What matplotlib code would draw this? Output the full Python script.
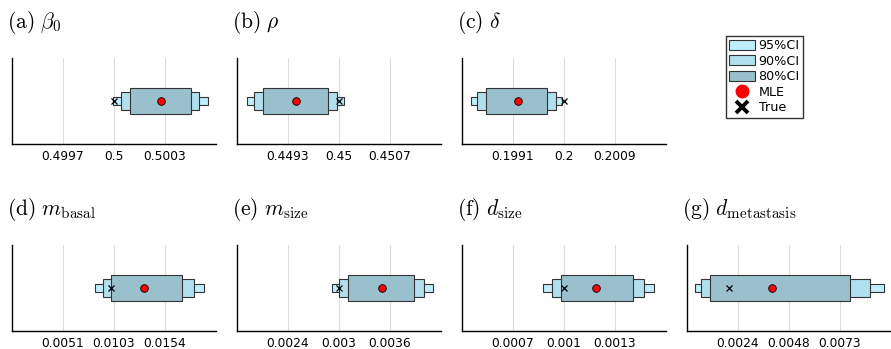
import numpy as np
import matplotlib
matplotlib.use("Agg")
import matplotlib.pyplot as plt
from matplotlib.patches import Patch
from matplotlib.lines import Line2D

plt.rcParams["mathtext.fontset"] = "cm"
plt.rcParams["font.family"] = "DejaVu Sans"

# panel titles
titles = [r"$\mathrm{(a)}\ \beta_0$", r"$\mathrm{(b)}\ \rho$", r"$\mathrm{(c)}\ \delta$",
          r"$\mathrm{(d)}\ m_{\mathrm{basal}}$", r"$\mathrm{(e)}\ m_{\mathrm{size}}$",
          r"$\mathrm{(f)}\ d_{\mathrm{size}}$", r"$\mathrm{(g)}\ d_{\mathrm{metastasis}}$"]

# estimates
true_vals = [0.5, 0.45, 0.2, 0.01, 0.003, 0.001, 0.002]
mle = [0.500276, 0.449414, 0.199183, 0.0133, 0.003502, 0.001188, 0.00406]
ci95_lo = [0.499996, 0.448733, 0.198354, 0.00838, 0.002914, 0.000878, 0.00038]
ci95_hi = [0.500551, 0.450073, 0.199970, 0.01936, 0.004102, 0.001529, 0.00937]
ci90_lo = [0.500041, 0.448837, 0.198470, 0.00916, 0.003004, 0.000928, 0.00065]
ci90_hi = [0.500502, 0.449968, 0.199854, 0.01838, 0.004000, 0.001472, 0.00870]
ci80_lo = [0.500092, 0.448957, 0.198624, 0.01003, 0.003109, 0.000981, 0.00109]
ci80_hi = [0.500451, 0.449845, 0.199705, 0.01720, 0.003886, 0.001408, 0.00775]

# axis ranges and ticks
xlims = [(0.4994, 0.5006), (0.4486, 0.4514), (0.1982, 0.2018), (0.0, 0.0206),
         (0.0018, 0.0042), (0.0004, 0.0016), (0.0, 0.0097)]
tick_labels = [["0.4997", "0.5", "0.5003"], ["0.4493", "0.45", "0.4507"],
               ["0.1991", "0.2", "0.2009"], ["0.0051", "0.0103", "0.0154"],
               ["0.0024", "0.003", "0.0036"], ["0.0007", "0.001", "0.0013"],
               ["0.0024", "0.0048", "0.0073"]]

c95 = "#BFEFFF"
c90 = "#B2DFEE"
c80 = "#9AC0CD"

W, H = 891, 349
fig = plt.figure(figsize=(W / 100, H / 100), dpi=100)

lefts = [12, 237, 462, 12, 237, 462, 687]
tops = [58, 58, 58, 245, 245, 245, 245]
aw, ah = 204, 86

for i in range(7):
    ax = fig.add_axes([lefts[i] / W, 1 - (tops[i] + ah) / H, aw / W, ah / H])
    lo, hi = xlims[i]
    ax.set_xlim(lo, hi)
    ax.set_ylim(0, 1)
    ticks = [lo + (hi - lo) * k / 4 for k in (1, 2, 3)]
    ax.set_xticks(ticks)
    ax.set_xticklabels(tick_labels[i], fontsize=8.8)
    ax.tick_params(axis="x", length=0, pad=4)
    ax.set_yticks([])
    ax.grid(axis="x", color="#dddddd", lw=0.8)
    ax.set_axisbelow(True)
    for s in ("top", "right"):
        ax.spines[s].set_visible(False)
    for s in ("left", "bottom"):
        ax.spines[s].set_linewidth(1.0)

    ax.barh(0.5, ci95_hi[i] - ci95_lo[i], left=ci95_lo[i], height=0.10,
            color=c95, edgecolor="#333333", lw=0.8, zorder=2)
    ax.barh(0.5, ci90_hi[i] - ci90_lo[i], left=ci90_lo[i], height=0.20,
            color=c90, edgecolor="#333333", lw=0.8, zorder=3)
    ax.barh(0.5, ci80_hi[i] - ci80_lo[i], left=ci80_lo[i], height=0.30,
            color=c80, edgecolor="#333333", lw=0.8, zorder=4)
    ax.plot(true_vals[i], 0.5, marker="x", color="black", ms=5, mew=0.9, ls="none", zorder=5)
    ax.plot(mle[i], 0.5, marker="o", color="red", mec="black", ms=5.5, mew=0.6, ls="none", zorder=6)

    base = 28 if i < 3 else 215
    fig.text((lefts[i] - 5) / W, 1 - base / H, titles[i], fontsize=15.5,
             ha="left", va="baseline")

handles = [Patch(facecolor=c95, edgecolor="#333333", lw=0.8, label="95%CI"),
           Patch(facecolor=c90, edgecolor="#333333", lw=0.8, label="90%CI"),
           Patch(facecolor=c80, edgecolor="#333333", lw=0.8, label="80%CI"),
           Line2D([], [], marker="o", color="red", mec="red", ms=9, ls="none", label="MLE"),
           Line2D([], [], marker="x", color="black", ms=8.5, mew=2.8, ls="none", label="True")]
fig.legend(handles=handles, loc="upper left", bbox_to_anchor=(726 / W, 1 - 36 / H),
           fontsize=9.2, frameon=True, fancybox=False, edgecolor="black",
           handlelength=2.0, handleheight=0.8, labelspacing=0.2, borderpad=0.25,
           handletextpad=0.3, borderaxespad=0)

fig.savefig("out.png", dpi=100)
